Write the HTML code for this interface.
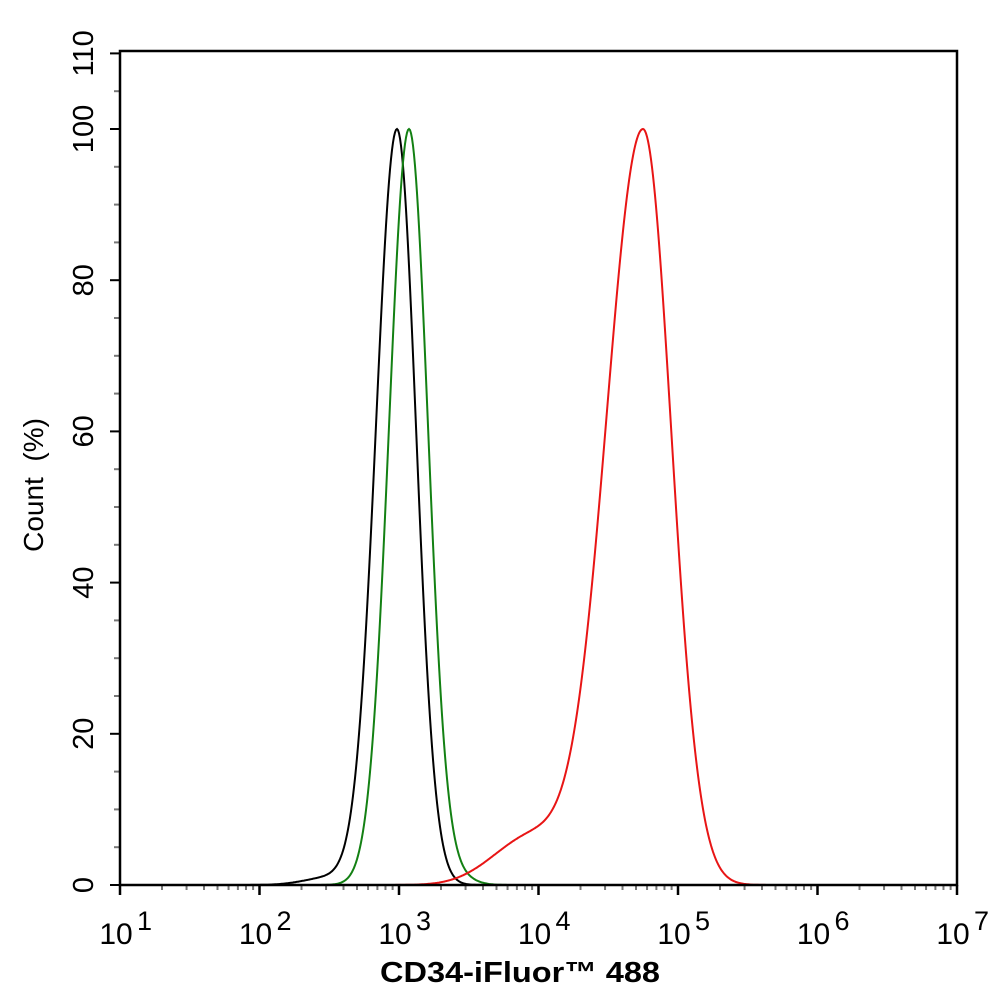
<!DOCTYPE html>
<html><head><meta charset="utf-8"><style>
body{margin:0;background:#fff}
svg text{font-family:"Liberation Sans",Arial,sans-serif}
</style></head><body>
<svg id="s" width="994" height="1002" viewBox="0 0 994 1002" xmlns="http://www.w3.org/2000/svg">
<rect width="994" height="1002" fill="#fff"/>
<g id="ticks"></g>
<path id="black" fill="none" stroke="#000" stroke-width="2"/>
<path id="green" fill="none" stroke="#138013" stroke-width="2"/>
<path id="red" fill="none" stroke="#e81515" stroke-width="2"/>
<rect x="120" y="51" width="837" height="834" fill="none" stroke="#000" stroke-width="2.5"/>
<g fill="#000" id="lab"></g>
<text x="520" y="982" font-size="29" font-weight="bold" text-anchor="middle" textLength="280" lengthAdjust="spacingAndGlyphs">CD34-iFluor™ 488</text>
<text transform="translate(43,485) rotate(-90)" font-size="28" text-anchor="middle">Count&#160;&#160;(%)</text>
</svg>
<script>
var X0=120,D=139.5,Y0=885,K=7.56,t='',l='';
for(var d=0;d<6;d++)for(var m=2;m<10;m++){var x=X0+D*(d+Math.log10(m));t+='<line x1="'+x+'" y1="885" x2="'+x+'" y2="890" stroke="#777" stroke-width="2"/>';}
for(var d=0;d<=6;d++){var x=X0+D*d;t+='<line x1="'+x+'" y1="885" x2="'+x+'" y2="895" stroke="#000" stroke-width="2.5"/>';
l+='<text x="'+(x-4)+'" y="944" font-size="30" text-anchor="middle">10</text><text x="'+(x+17)+'" y="930" font-size="27">'+(d+1)+'</text>';}
for(var v=0;v<=110;v+=5){var y=Y0-K*v;var maj=v%20==0||v==110;
t+='<line x1="'+(maj?110:114)+'" y1="'+y+'" x2="120" y2="'+y+'" stroke="'+(maj?'#000':'#777')+'" stroke-width="2"/>';
if(maj)l+='<text transform="translate(93,'+y+') rotate(-90)" font-size="29" text-anchor="middle">'+v+'</text>';}
document.getElementById('ticks').innerHTML=t;document.getElementById('lab').innerHTML=l;
function g(x,c,s){return Math.exp(-(x-c)*(x-c)/(2*s*s));}
function mk(id,f,a,b){var p='',mx=0,i,arr=[];for(i=a;i<=b;i++){var v=f(i);arr.push(v);if(v>mx)mx=v;}
for(i=a;i<=b;i++){var y=Y0-K*100*arr[i-a]/mx;p+=(i==a?'M':'L')+i+' '+y.toFixed(1);}
document.getElementById(id).setAttribute('d',p);}
mk('black',function(x){return (x<397?g(x,397,21):g(x,397,19))+0.01*g(x,330,25);},120,957);
mk('green',function(x){return (x<409?g(x,409,20):g(x,409,19))+0.008*g(x,460,15);},120,957);
mk('red',function(x){return (x<643?g(x,643,37):g(x,643,28))+0.055*g(x,535,32)+0.015*g(x,495,30);},120,957);
</script>
</body></html>
